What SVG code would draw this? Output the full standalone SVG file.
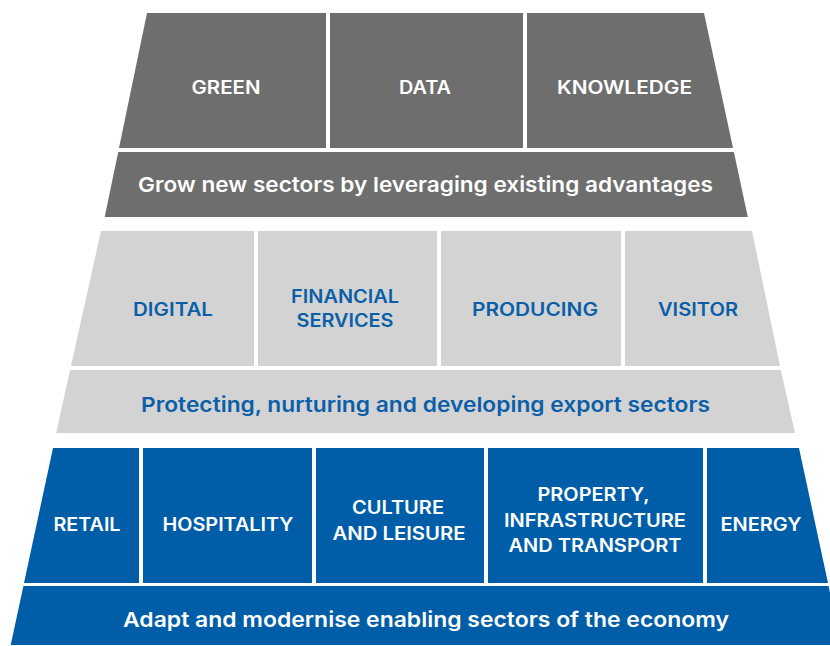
<svg xmlns="http://www.w3.org/2000/svg" width="830" height="646" viewBox="0 0 830 646">
<style>
.t1{fill:#6e6e6e}
.t2{fill:#d3d3d3}
.t3{fill:#005ea8}
text{font-family:Inter,"Open Sans","Liberation Sans",sans-serif;font-weight:600;text-anchor:middle}
.lw{fill:#ffffff;font-size:18px}
.lb{fill:#0b5fa8;font-size:18px}
.bw{fill:#ffffff;font-size:20.5px}
.bb{fill:#0b5fa8;font-size:20.5px}
</style>
<rect width="830" height="646" fill="#ffffff"/>
<g id="top-tier">
<g id="green"><polygon class="t1" points="147,13 326,13 326,148 119,148"/><text class="lw" x="226" y="94" textLength="69" lengthAdjust="spacingAndGlyphs">GREEN</text></g>
<g id="data"><polygon class="t1" points="330,13 523,13 523,148 330,148"/><text class="lw" x="425" y="94" textLength="52" lengthAdjust="spacingAndGlyphs">DATA</text></g>
<g id="knowledge"><polygon class="t1" points="527,13 704,13 733,148 527,148"/><text class="lw" x="624.5" y="94" textLength="135" lengthAdjust="spacingAndGlyphs">KNOWLEDGE</text></g>
<g id="grow"><polygon class="t1" points="118.2,152 733.9,152 747.8,217 104.7,217"/><text class="bw" x="425.5" y="192" textLength="575" lengthAdjust="spacingAndGlyphs">Grow new sectors by leveraging existing advantages</text></g>
</g>
<g id="middle-tier">
<g id="digital"><polygon class="t2" points="101,231 254,231 254,366 71,366"/><text class="lb" x="173" y="316" textLength="80" lengthAdjust="spacingAndGlyphs">DIGITAL</text></g>
<g id="financial"><polygon class="t2" points="258,231 437,231 437,366 258,366"/><text class="lb" x="345" y="302.5" textLength="108" lengthAdjust="spacingAndGlyphs">FINANCIAL</text><text class="lb" x="345" y="326.5" textLength="97" lengthAdjust="spacingAndGlyphs">SERVICES</text></g>
<g id="producing"><polygon class="t2" points="441,231 621,231 621,366 441,366"/><text class="lb" x="535" y="316" textLength="126" lengthAdjust="spacingAndGlyphs">PRODUCING</text></g>
<g id="visitor"><polygon class="t2" points="625,231 752,231 780,366 625,366"/><text class="lb" x="698" y="316" textLength="80" lengthAdjust="spacingAndGlyphs">VISITOR</text></g>
<g id="protecting"><polygon class="t2" points="70.1,370 780.8,370 795,433 56.1,433"/><text class="bb" x="425.5" y="411.5" textLength="569" lengthAdjust="spacingAndGlyphs">Protecting, nurturing and developing export sectors</text></g>
</g>
<g id="bottom-tier">
<g id="retail"><polygon class="t3" points="53,448 139,448 139,583 24,583"/><text class="lw" x="87" y="530.5" textLength="67" lengthAdjust="spacingAndGlyphs">RETAIL</text></g>
<g id="hospitality"><polygon class="t3" points="143,448 312,448 312,583 143,583"/><text class="lw" x="228" y="530.5" textLength="131" lengthAdjust="spacingAndGlyphs">HOSPITALITY</text></g>
<g id="culture"><polygon class="t3" points="316,448 484,448 484,583 316,583"/><text class="lw" x="398" y="514" textLength="92" lengthAdjust="spacingAndGlyphs">CULTURE</text><text class="lw" x="399" y="539.5" textLength="133" lengthAdjust="spacingAndGlyphs">AND LEISURE</text></g>
<g id="property"><polygon class="t3" points="488,448 703,448 703,583 488,583"/><text class="lw" x="593.5" y="501" textLength="112" lengthAdjust="spacingAndGlyphs">PROPERTY,</text><text class="lw" x="595" y="526.5" textLength="182" lengthAdjust="spacingAndGlyphs">INFRASTRUCTURE</text><text class="lw" x="595" y="551.5" textLength="173" lengthAdjust="spacingAndGlyphs">AND TRANSPORT</text></g>
<g id="energy"><polygon class="t3" points="707,448 799,448 828,583 707,583"/><text class="lw" x="761" y="530.5" textLength="81" lengthAdjust="spacingAndGlyphs">ENERGY</text></g>
<g id="adapt"><polygon class="t3" points="23.4,586 828.6,586 841,645 10.7,645"/><text class="bw" x="426" y="626.5" textLength="606" lengthAdjust="spacingAndGlyphs">Adapt and modernise enabling sectors of the economy</text></g>
</g>
<g id="connectors"/>
</svg>
